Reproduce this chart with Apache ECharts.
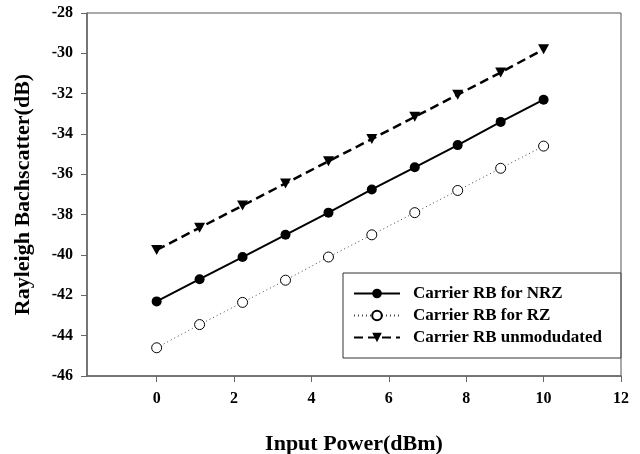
<!DOCTYPE html>
<html>
<head>
<meta charset="utf-8">
<script src="https://cdn.jsdelivr.net/npm/echarts@6/dist/echarts.min.js"></script>
<style>html,body{margin:0;padding:0;background:#fff}#c{width:640px;height:454px}</style>
</head>
<body>
<div id="c"></div>
<script>
const xValues = [0, 1.11, 2.22, 3.33, 4.44, 5.56, 6.67, 7.78, 8.89, 10];
const nrz = [-42.3, -41.2, -40.1, -39.0, -37.9, -36.75, -35.65, -34.55, -33.4, -32.3];
const rz = [-44.6, -43.45, -42.35, -41.25, -40.1, -39.0, -37.9, -36.8, -35.7, -34.6];
const unmod = [-39.75, -38.65, -37.55, -36.45, -35.35, -34.25, -33.15, -32.05, -30.95, -29.8];
const xTicks = [0, 2, 4, 6, 8, 10, 12];
const seriesNames = ['Carrier RB for NRZ', 'Carrier RB for RZ', 'Carrier RB unmodudated'];

const font = 'Liberation Serif';
const pair = (ys) => xValues.map((x, i) => [x, ys[i]]);
const chart = echarts.init(document.getElementById('c'));
chart.setOption({
  animation: false,
  grid: { left: 87, right: 19, top: 13, bottom: 78, show: true, borderColor: '#555', borderWidth: 1,
          containLabel: false, outerBoundsMode: 'none' },
  xAxis: {
    type: 'value', min: -1.8, max: 12,
    name: 'Input Power(dBm)', nameLocation: 'middle', nameGap: 57,
    nameTextStyle: { fontFamily: font, fontWeight: 'bold', fontSize: 22, color: '#000' },
    axisLine: { onZero: false, lineStyle: { color: '#666', width: 1.5 } },
    axisTick: { show: true, length: 6, lineStyle: { color: '#666' }, customValues: xTicks },
    axisLabel: { customValues: xTicks, fontFamily: font, fontWeight: 'bold', fontSize: 16, color: '#000', margin: 15 },
    splitLine: { show: false }
  },
  yAxis: {
    type: 'value', min: -46, max: -28, interval: 2,
    name: 'Rayleigh Bachscatter(dB)', nameLocation: 'middle', nameGap: 53,
    nameTextStyle: { fontFamily: font, fontWeight: 'bold', fontSize: 22, color: '#000' },
    axisLine: { show: true, onZero: false, lineStyle: { color: '#666', width: 1.5 } },
    axisTick: { show: true, length: 6, lineStyle: { color: '#666' } },
    axisLabel: { fontFamily: font, fontWeight: 'bold', fontSize: 16, color: '#000', margin: 14 },
    splitLine: { show: false }
  },
  legend: {
    orient: 'vertical', left: 343, top: 273,
    data: seriesNames,
    itemWidth: 46, itemHeight: 12, itemGap: 5,
    padding: [12, 19, 12, 10],
    borderColor: '#333', borderWidth: 1, backgroundColor: '#fff',
    textStyle: { fontFamily: font, fontWeight: 'bold', fontSize: 17, color: '#000', padding: [0, 0, 0, 8] }
  },
  series: [
    { name: seriesNames[0], type: 'line', data: pair(nrz), symbol: 'circle', symbolSize: 10,
      itemStyle: { color: '#000' }, lineStyle: { color: '#000', width: 2 } },
    { name: seriesNames[1], type: 'line', data: pair(rz), symbol: 'circle', symbolSize: 10,
      itemStyle: { color: '#fff', borderColor: '#000', borderWidth: 1 }, lineStyle: { color: '#444', width: 1, type: [1, 3] } },
    { name: seriesNames[2], type: 'line', data: pair(unmod), symbol: 'path://M0,0 L10,0 L5,9 Z', symbolSize: [11, 10],
      itemStyle: { color: '#000' }, lineStyle: { color: '#000', width: 2.5, type: [9, 5] } }
  ]
});
</script>
</body>
</html>
